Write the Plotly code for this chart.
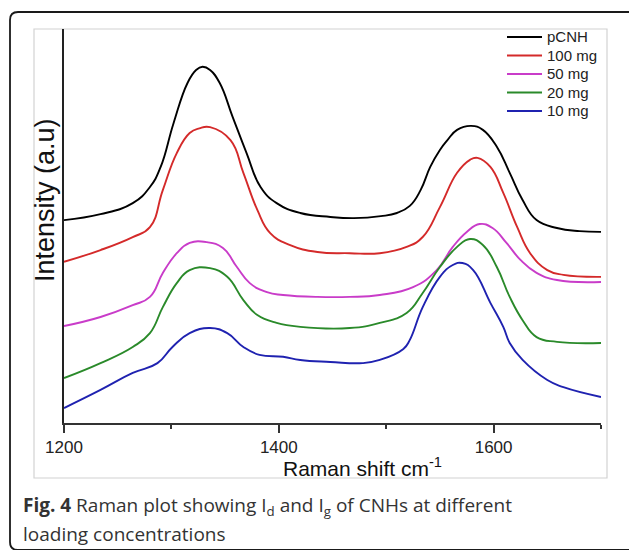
import plotly.graph_objects as go

# ---------------- data ----------------
series_names = ["pCNH", "100 mg", "50 mg", "20 mg", "10 mg"]
series_colors = ["#000000", "#d42a2a", "#c93cc9", "#2a8a2a", "#1f22b0"]

pcnh_x = [1200, 1234, 1264, 1280, 1290, 1302, 1315, 1323, 1329, 1336, 1345, 1357, 1370, 1383, 1398, 1420,
          1448, 1470, 1495, 1510, 1522, 1532, 1541, 1550, 1557, 1566, 1579, 1590, 1603, 1615, 1627, 1640,
          1659, 1680, 1700]
pcnh_y = [51.5, 53.0, 55.8, 59.9, 65.0, 76.1, 86.3, 89.6, 90.4, 89.6, 86.3, 77.7, 68.5, 59.9, 55.8, 53.3,
          52.3, 52.0, 52.5, 53.3, 55.1, 59.1, 65.0, 69.3, 71.8, 74.4, 75.4, 74.4, 70.1, 63.5, 56.6, 51.5,
          49.5, 48.7, 48.5]

mg100_x = [1200, 1234, 1264, 1280, 1292, 1305, 1317, 1326, 1336, 1355, 1367, 1380, 1392, 1410, 1436, 1466,
           1494, 1519, 1534, 1550, 1566, 1578, 1585, 1597, 1609, 1622, 1634, 1650, 1665, 1700]
mg100_y = [40.9, 43.9, 47.2, 49.7, 59.1, 68.5, 73.6, 74.8, 75.1, 71.8, 63.5, 54.1, 48.2, 45.2, 43.4, 43.1,
           43.1, 44.7, 47.2, 54.8, 63.5, 66.8, 67.3, 65.0, 58.4, 49.7, 43.1, 38.8, 37.6, 37.1]

mg50_x = [1200, 1234, 1264, 1280, 1292, 1305, 1317, 1333, 1348, 1361, 1373, 1389, 1404, 1436, 1466, 1494,
          1525, 1547, 1562, 1575, 1587, 1599, 1612, 1625, 1640, 1659, 1700]
mg50_y = [24.6, 26.9, 29.9, 32.0, 38.1, 43.1, 45.7, 45.9, 44.4, 39.6, 35.5, 33.2, 32.5, 32.0, 32.0, 32.5,
          34.5, 38.8, 44.7, 48.5, 50.5, 49.5, 45.7, 41.4, 38.1, 36.3, 35.8]

mg20_x = [1200, 1234, 1264, 1280, 1292, 1305, 1317, 1336, 1352, 1367, 1380, 1398, 1420, 1466, 1494, 1519,
          1534, 1550, 1566, 1578, 1590, 1603, 1615, 1627, 1640, 1659, 1700]
mg20_y = [11.4, 15.2, 19.3, 22.8, 29.4, 35.5, 38.8, 39.3, 37.1, 31.2, 27.4, 25.4, 24.4, 24.1, 25.4, 27.9,
          33.0, 39.6, 44.7, 46.7, 45.2, 39.6, 32.0, 26.1, 21.8, 20.6, 20.3]

mg10_x = [1200, 1234, 1264, 1287, 1301, 1317, 1336, 1352, 1367, 1382, 1404, 1420, 1448, 1478, 1494, 1516,
          1522, 1534, 1550, 1562, 1571, 1581, 1597, 1609, 1615, 1627, 1650, 1665, 1700]
mg10_y = [3.8, 8.4, 12.7, 15.2, 19.3, 22.8, 24.1, 22.8, 19.3, 17.3, 16.8, 16.0, 15.5, 15.2, 16.0, 18.8,
          21.1, 29.4, 37.1, 40.1, 40.6, 38.8, 30.5, 24.4, 20.3, 16.0, 10.9, 9.1, 6.6]

x_tick_vals = [1200, 1400, 1600]
x_tick_text = ["1200", "1400", "1600"]
x_minor_vals = [1300, 1500, 1700]
x_range = [1200, 1700]
y_range = [0, 100]

xs = [pcnh_x, mg100_x, mg50_x, mg20_x, mg10_x]
ys = [pcnh_y, mg100_y, mg50_y, mg20_y, mg10_y]

# ---------------- layout geometry ----------------
W, H = 629, 550
L, R, T, B = 64, 601, 29, 423  # plot area in pixels


def px(x):
    return (x - L) / (R - L)


def py(y):
    return (B - y) / (B - T)


AX_FONT = "Arial"

fig = go.Figure()
for name, color, x, y in zip(series_names, series_colors, xs, ys):
    fig.add_trace(go.Scatter(x=x, y=y, name=name, mode="lines",
                             line=dict(color=color, width=1.9, shape="spline", smoothing=1.3),
                             showlegend=False, hoverinfo="x+y+name"))

shapes = []
annotations = []

# outer rounded frame (open on the right/bottom, as in the reference crop)
r = 8
xl, yt, yb, xr = 10, 12, 550, 650
path = (f"M {px(xr)},{py(yt)} L {px(xl + r)},{py(yt)} Q {px(xl)},{py(yt)} {px(xl)},{py(yt + r)} "
        f"L {px(xl)},{py(yb - r)} Q {px(xl)},{py(yb)} {px(xl + r)},{py(yb)} L {px(xr)},{py(yb)}")
shapes.append(dict(type="path", xref="paper", yref="paper", path=path,
                   line=dict(color="#1a1a1a", width=1.8), layer="above"))
# inner light-grey image frame
shapes.append(dict(type="rect", xref="paper", yref="paper",
                   x0=px(34), x1=px(607), y0=py(478), y1=py(29),
                   line=dict(color="#d2d2d2", width=1.2), layer="below"))

# legend (drawn manually to match spacing)
for i, (name, color) in enumerate(zip(series_names, series_colors)):
    yy = 37 + 18.5 * i
    shapes.append(dict(type="line", xref="paper", yref="paper",
                       x0=px(507), x1=px(542), y0=py(yy), y1=py(yy),
                       line=dict(color=color, width=2.2)))
    annotations.append(dict(text=name, xref="paper", yref="paper", x=px(545), y=py(yy),
                            xanchor="left", yanchor="middle", showarrow=False,
                            font=dict(family=AX_FONT, size=15, color="#222")))

# axis titles
annotations.append(dict(text="Raman shift cm<sup>-1</sup>", xref="paper", yref="paper",
                        x=px(362), y=py(467), xanchor="center", yanchor="middle", showarrow=False,
                        font=dict(family=AX_FONT, size=21, color="#111")))
annotations.append(dict(text="Intensity (a.u)", xref="paper", yref="paper",
                        x=px(45), y=py(200), xanchor="center", yanchor="middle", showarrow=False,
                        textangle=-90, font=dict(family=AX_FONT, size=27, color="#111")))

# caption
CAP_FONT = "Open Sans"
annotations.append(dict(text="<b>Fig. 4</b> Raman plot showing I<sub>d</sub> and I<sub>g</sub> of CNHs at different",
                        xref="paper", yref="paper", x=px(21), y=py(506), xanchor="left", yanchor="middle",
                        showarrow=False, font=dict(family=CAP_FONT, size=19, color="#333")))
annotations.append(dict(text="loading concentrations",
                        xref="paper", yref="paper", x=px(21), y=py(534), xanchor="left", yanchor="middle",
                        showarrow=False, font=dict(family=CAP_FONT, size=19, color="#333")))

fig.update_layout(
    width=W, height=H,
    margin=dict(l=L, r=W - R, t=T, b=H - B),
    paper_bgcolor="white", plot_bgcolor="white",
    showlegend=False,
    shapes=shapes, annotations=annotations,
    xaxis=dict(range=x_range, tickvals=x_tick_vals, ticktext=x_tick_text,
               ticks="outside", ticklen=8, tickwidth=1.5, tickcolor="#333",
               showline=True, linecolor="#333", linewidth=1.8,
               minor=dict(tickvals=x_minor_vals, ticks="outside", ticklen=4,
                          tickwidth=1.5, tickcolor="#333"),
               showgrid=False, zeroline=False,
               tickfont=dict(family=AX_FONT, size=17, color="#222")),
    yaxis=dict(range=y_range, showline=True, linecolor="#222", linewidth=2,
               showticklabels=False, ticks="", showgrid=False, zeroline=False),
)

fig.write_html("out.html")
